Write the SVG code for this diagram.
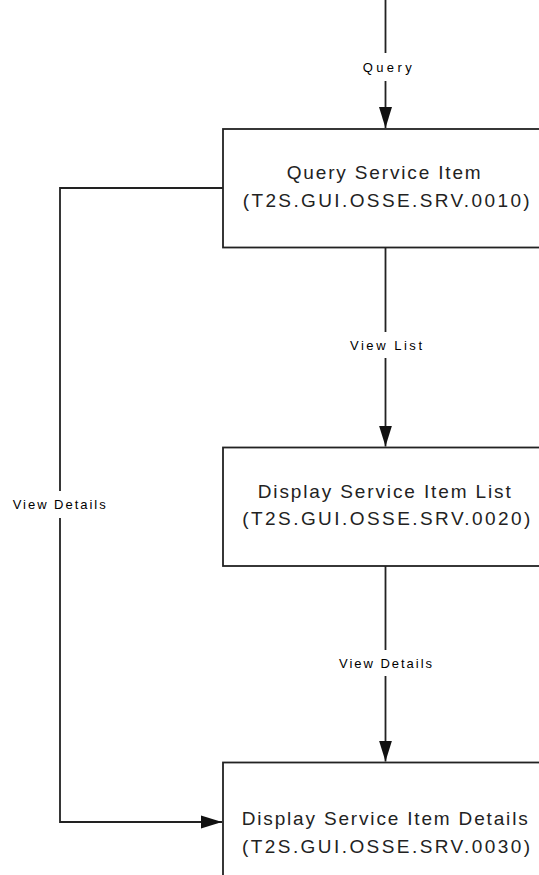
<svg xmlns="http://www.w3.org/2000/svg" width="539" height="875" viewBox="0 0 539 875">
<style>
.box{fill:#fff;stroke:#222;stroke-width:1.8}
.con{fill:none;stroke:#222;stroke-width:1.8}
.t{font-family:"Liberation Sans",Arial,sans-serif;font-size:19px;fill:#222}
.l{font-family:"Liberation Sans",Arial,sans-serif;font-size:13px;fill:#000}
</style>
<defs>
<marker id="arr" markerUnits="userSpaceOnUse" markerWidth="22" markerHeight="16" refX="21" refY="7" orient="auto">
<path d="M0,0.5 L21,7 L0,13.5 z" fill="#111"/>
</marker>
</defs>
<rect width="539" height="875" fill="#fff"/>
<g id="n1">
<rect class="box" x="223" y="129" width="330" height="118.5"/>
<text class="t" x="286.7" y="179" textLength="194" lengthAdjust="spacing">Query Service Item</text>
<text class="t" x="242.7" y="207" textLength="287" lengthAdjust="spacing">(T2S.GUI.OSSE.SRV.0010)</text>
</g>
<g id="n2">
<rect class="box" x="223" y="447.5" width="330" height="118.5"/>
<text class="t" x="257.7" y="497.5" textLength="253" lengthAdjust="spacing">Display Service Item List</text>
<text class="t" x="242.3" y="524.5" textLength="288" lengthAdjust="spacing">(T2S.GUI.OSSE.SRV.0020)</text>
</g>
<g id="n3">
<rect class="box" x="223" y="762.5" width="330" height="130"/>
<text class="t" x="241.7" y="825" textLength="286" lengthAdjust="spacing">Display Service Item Details</text>
<text class="t" x="242" y="852.5" textLength="288" lengthAdjust="spacing">(T2S.GUI.OSSE.SRV.0030)</text>
</g>
<g id="connectors">
<path class="con" d="M385.5,0 V53 M385.5,81 V128" marker-end="url(#arr)"/>
<path class="con" d="M385.5,247.5 V332 M385.5,358 V446.5" marker-end="url(#arr)"/>
<path class="con" d="M385.5,566 V650 M385.5,676 V761.5" marker-end="url(#arr)"/>
<path class="con" d="M223,188 H60 V491 M60,518 V822 H222" marker-end="url(#arr)"/>
<text class="l" x="362.7" y="72" textLength="49" lengthAdjust="spacing">Query</text>
<text class="l" x="350" y="350" textLength="72" lengthAdjust="spacing">View List</text>
<text class="l" x="339" y="668" textLength="93" lengthAdjust="spacing">View Details</text>
<text class="l" x="12.7" y="509" textLength="93" lengthAdjust="spacing">View Details</text>
</g>
</svg>
